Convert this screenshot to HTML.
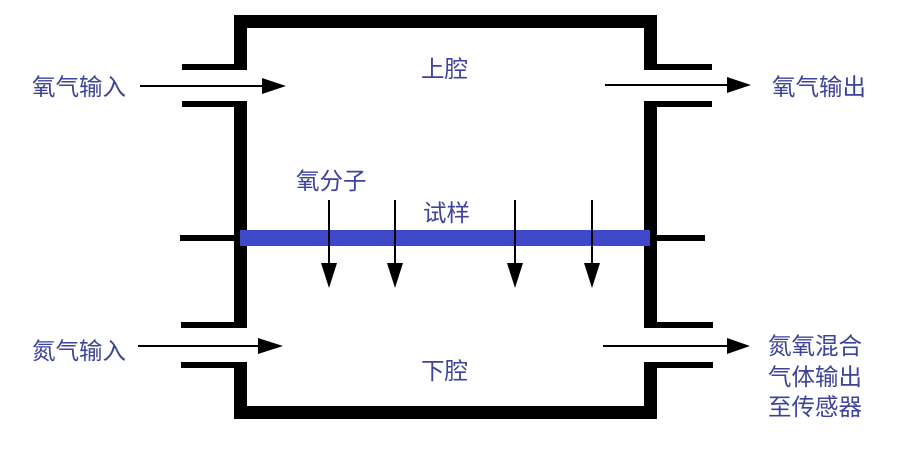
<!DOCTYPE html>
<html><head><meta charset="utf-8"><style>
body{margin:0;background:#fff;}
svg text{font-family:"Liberation Sans","Noto Sans CJK SC",sans-serif;font-size:23.5px;fill:#3d4398;}
</style></head><body>
<svg width="914" height="446" viewBox="0 0 914 446" xmlns="http://www.w3.org/2000/svg">
<g fill="#000">
<rect x="234" y="15" width="423" height="13"/>
<rect x="234" y="15" width="13" height="55"/>
<rect x="182" y="64" width="65" height="6"/>
<rect x="182" y="101" width="65" height="6"/>
<rect x="234" y="101" width="13" height="227"/>
<rect x="181" y="322" width="66" height="6"/>
<rect x="181" y="362" width="66" height="6"/>
<rect x="234" y="362" width="13" height="57"/>
<rect x="180" y="235" width="60" height="6"/>
<rect x="644" y="15" width="13" height="55"/>
<rect x="644" y="64" width="68" height="6"/>
<rect x="644" y="101" width="68" height="6"/>
<rect x="644" y="101" width="13" height="227"/>
<rect x="644" y="322" width="69" height="6"/>
<rect x="644" y="362" width="69" height="6"/>
<rect x="644" y="362" width="13" height="57"/>
<rect x="657" y="235" width="48" height="6"/>
<rect x="234" y="406" width="423" height="13"/>
</g>
<rect x="240" y="230" width="410" height="16" fill="#3e49c8"/>
<g stroke="#000" stroke-width="2" fill="none">
<line x1="140" y1="86" x2="264" y2="86"/>
<line x1="605" y1="85" x2="729" y2="85"/>
<line x1="138" y1="346" x2="260" y2="346"/>
<line x1="603" y1="346" x2="729" y2="346"/>
<line x1="329" y1="200" x2="329" y2="265"/>
<line x1="395" y1="200" x2="395" y2="265"/>
<line x1="515" y1="200" x2="515" y2="265"/>
<line x1="592" y1="200" x2="592" y2="265"/>
</g>
<g fill="#000">
<path d="M262,78 L286,86 L262,94 Z"/>
<path d="M727,77 L751,85 L727,93 Z"/>
<path d="M258,338 L283,346 L258,354 Z"/>
<path d="M727,338 L750,346 L727,354 Z"/>
<path d="M321,263 L337,263 L329,288 Z"/>
<path d="M387,263 L403,263 L395,288 Z"/>
<path d="M507,263 L523,263 L515,288 Z"/>
<path d="M584,263 L600,263 L592,288 Z"/>
</g>
<text x="32" y="95">氧气输入</text>
<text x="421" y="77">上腔</text>
<text x="772" y="95">氧气输出</text>
<text x="296" y="189">氧分子</text>
<text x="423" y="221">试样</text>
<text x="32" y="359">氮气输入</text>
<text x="421" y="379">下腔</text>
<text x="768" y="354">氮氧混合</text>
<text x="768" y="385">气体输出</text>
<text x="768" y="415">至传感器</text>
</svg>
</body></html>
